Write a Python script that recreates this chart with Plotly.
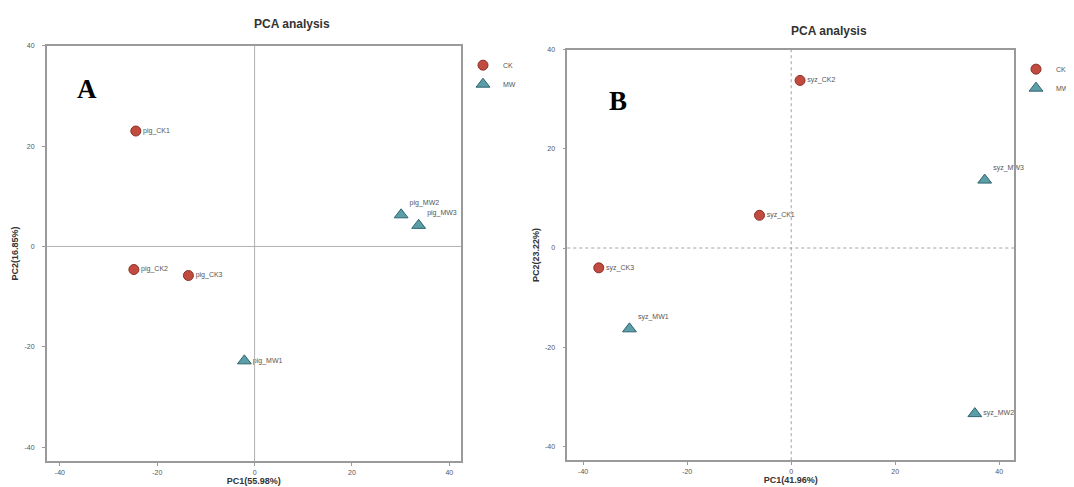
import plotly.graph_objects as go

# page body has an 8px default margin; the figure is sized to fit inside the window
OFF = 8
W, H = 1074 - OFF, 487 - OFF

# Panel A data
a_ck_names = ["pig_CK1", "pig_CK2", "pig_CK3"]
a_ck_x = [-24.4, -24.8, -13.6]
a_ck_y = [23.0, -4.6, -5.8]
a_mw_names = ["pig_MW1", "pig_MW2", "pig_MW3"]
a_mw_x = [-2.1, 30.1, 33.7]
a_mw_y = [-22.8, 6.3, 4.2]

# Panel B data
b_ck_names = ["syz_CK1", "syz_CK2", "syz_CK3"]
b_ck_x = [-6.1, 1.7, -37.0]
b_ck_y = [6.6, 33.8, -4.0]
b_mw_names = ["syz_MW1", "syz_MW2", "syz_MW3"]
b_mw_x = [-31.1, 35.3, 37.2]
b_mw_y = [-16.3, -33.4, 13.7]

tick_vals = [-40, -20, 0, 20, 40]
tick_text = ["-40", "-20", "0", "20", "40"]

CK_FILL = "#c24b40"
CK_EDGE = "#8a2f27"
MW_FILL = "#5b9ea8"
MW_EDGE = "#2f6470"
TXT = "#555555"
AX = "#9a9a9a"
FONT = "Liberation Sans"

def px_x(p):
    return (p - OFF) / W

def px_y(p):
    return 1 - (p - OFF) / H

fig = go.Figure()

def add_panel(xa, ya, ck_names, ck_x, ck_y, mw_names, mw_x, mw_y, ck_pos, mw_pos, legend):
    fig.add_trace(go.Scatter(
        x=ck_x, y=ck_y, mode="markers+text", text=ck_names, textposition=ck_pos,
        textfont=dict(size=7, color=TXT, family=FONT),
        marker=dict(symbol="circle", size=10, color=CK_FILL, line=dict(color=CK_EDGE, width=1)),
        name="CK", xaxis=xa, yaxis=ya, legend=legend, cliponaxis=False))
    fig.add_trace(go.Scatter(
        x=mw_x, y=mw_y, mode="markers+text", text=mw_names, textposition=mw_pos,
        textfont=dict(size=7, color=TXT, family=FONT),
        marker=dict(symbol="triangle-up", size=12, color=MW_FILL, line=dict(color=MW_EDGE, width=1)),
        name="MW", xaxis=xa, yaxis=ya, legend=legend, cliponaxis=False))

add_panel("x", "y", a_ck_names, a_ck_x, a_ck_y, a_mw_names, a_mw_x, a_mw_y,
          ["middle right", "middle right", "middle right"],
          ["middle right", "top right", "top right"], "legend")
add_panel("x2", "y2", b_ck_names, b_ck_x, b_ck_y, b_mw_names, b_mw_x, b_mw_y,
          ["middle right", "middle right", "middle right"],
          ["top right", "middle right", "top right"], "legend2")

axis_common = dict(
    showgrid=False, zeroline=False, showline=True, mirror=True,
    linecolor=AX, linewidth=1.5, ticks="outside", ticklen=3, tickcolor=AX,
    tickvals=tick_vals, ticktext=tick_text,
    tickfont=dict(size=7, color=TXT, family=FONT),
)
t_font = dict(size=9, color="#333", family=FONT)

fig.update_layout(
    width=W, height=H, margin=dict(l=0, r=0, t=0, b=0),
    paper_bgcolor="white", plot_bgcolor="white",
    xaxis=dict(axis_common, domain=[px_x(47), px_x(464)], range=[-42.7, 42.4], anchor="y",
               ticklabelstandoff=1,
               title=dict(text="<b>PC1(55.98%)</b>", font=t_font, standoff=2)),
    yaxis=dict(axis_common, domain=[px_y(461), px_y(42)], range=[-42.8, 40], anchor="x",
               ticklabelstandoff=6,
               title=dict(text="<b>PC2(16.85%)</b>", font=t_font, standoff=4)),
    xaxis2=dict(axis_common, domain=[px_x(571), px_x(1021)], range=[-43.05, 42.9], anchor="y2",
                ticklabelstandoff=1,
                title=dict(text="<b>PC1(41.96%)</b>", font=t_font, standoff=2)),
    yaxis2=dict(axis_common, domain=[px_y(460), px_y(46)], range=[-42.8, 40], anchor="x2",
                ticklabelstandoff=6,
                title=dict(text="<b>PC2(23.22%)</b>", font=t_font, standoff=4)),
    legend=dict(x=px_x(466), y=px_y(47), xanchor="left", yanchor="top",
                font=dict(size=7, color=TXT, family=FONT), bgcolor="rgba(0,0,0,0)",
                tracegroupgap=0, itemwidth=30),
    legend2=dict(x=px_x(1023), y=px_y(51), xanchor="left", yanchor="top",
                 font=dict(size=7, color=TXT, family=FONT), bgcolor="rgba(0,0,0,0)",
                 tracegroupgap=0, itemwidth=30),
    showlegend=True,
)

# reference lines at zero
fig.add_shape(type="line", x0=0, x1=0, y0=0, y1=1, xref="x", yref="y domain",
              line=dict(color="#b0b0b0", width=1))
fig.add_shape(type="line", x0=0, x1=1, y0=0, y1=0, xref="x domain", yref="y",
              line=dict(color="#b0b0b0", width=1))
fig.add_shape(type="line", x0=0, x1=0, y0=0, y1=1, xref="x2", yref="y2 domain",
              line=dict(color="#a0a0a0", width=1, dash="dot"))
fig.add_shape(type="line", x0=0, x1=1, y0=0, y1=0, xref="x2 domain", yref="y2",
              line=dict(color="#a0a0a0", width=1, dash="dot"))

annots = [
    dict(text="<b>PCA analysis</b>", x=px_x(294), y=px_y(20), font=dict(size=12, color="#333", family=FONT)),
    dict(text="<b>PCA analysis</b>", x=px_x(834), y=px_y(27), font=dict(size=12, color="#333", family=FONT)),
    dict(text="<b>A</b>", x=px_x(88), y=px_y(86), font=dict(size=27, color="black", family="Liberation Serif")),
    dict(text="<b>B</b>", x=px_x(622), y=px_y(98), font=dict(size=27, color="black", family="Liberation Serif")),
]
for a in annots:
    fig.add_annotation(xref="paper", yref="paper", showarrow=False, xanchor="center", yanchor="middle", **a)

fig.write_html("out.html")
